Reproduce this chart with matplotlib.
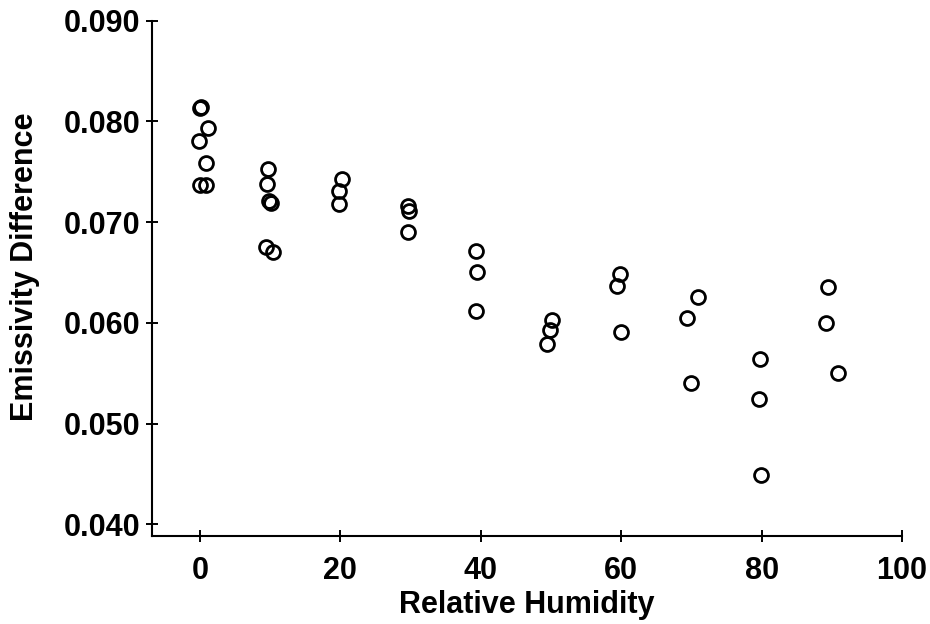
import matplotlib.pyplot as plt

plt.rcParams['font.family'] = ['Liberation Sans', 'DejaVu Sans']
plt.rcParams['font.weight'] = 'bold'

# Relative humidity (x) and emissivity difference (y)
humidity = [0.05, 0.2, 1.2, -0.1, 0.95, 0.0, 0.9,
            9.7, 9.6, 9.8, 10.1, 9.4, 10.4,
            20.3, 19.8, 19.8,
            29.6, 29.8, 29.6,
            39.3, 39.4, 39.3,
            50.1, 49.8, 49.5,
            59.8, 59.4, 60.0,
            71.0, 69.4, 69.9,
            79.8, 79.6, 79.9,
            89.4, 89.1, 90.9]
emissivity = [0.0813, 0.0814, 0.0793, 0.0781, 0.0759, 0.0737, 0.0737,
              0.0753, 0.0738, 0.0721, 0.0719, 0.0675, 0.0670,
              0.0743, 0.0731, 0.0718,
              0.0716, 0.0711, 0.0690,
              0.0671, 0.0651, 0.0612,
              0.0603, 0.0593, 0.0579,
              0.0649, 0.0637, 0.0591,
              0.0626, 0.0605, 0.0540,
              0.0564, 0.0524, 0.0449,
              0.0636, 0.0600, 0.0550]

x_ticks = [0, 20, 40, 60, 80, 100]
y_ticks = [0.040, 0.050, 0.060, 0.070, 0.080, 0.090]

fig = plt.figure(figsize=(9.3, 6.24), dpi=100)
ax = fig.add_axes([0.1635, 0.1418, 0.8065, 0.8252])

ax.plot(humidity, emissivity, linestyle='none', marker='o', markersize=10,
        markerfacecolor='none', markeredgecolor='black', markeredgewidth=2.0)

ax.set_xlim(-6.8, 100)
ax.set_ylim(0.0389, 0.090)
ax.set_xticks(x_ticks)
ax.set_yticks(y_ticks)
ax.set_yticklabels(['%.3f' % v for v in y_ticks])

for side in ['top', 'right']:
    ax.spines[side].set_visible(False)
for side in ['left', 'bottom']:
    ax.spines[side].set_linewidth(1.5)

ax.tick_params(direction='inout', length=9, width=1.4, labelsize=22)
ax.tick_params(axis='x', pad=10)
ax.tick_params(axis='y', pad=4)
ax.set_xlabel('Relative Humidity', fontsize=22, fontweight='bold', labelpad=3)
ax.set_ylabel('Emissivity Difference', fontsize=22, fontweight='bold')
ax.yaxis.set_label_coords(-0.150, 0.522)

plt.savefig('out.png', dpi=100)
